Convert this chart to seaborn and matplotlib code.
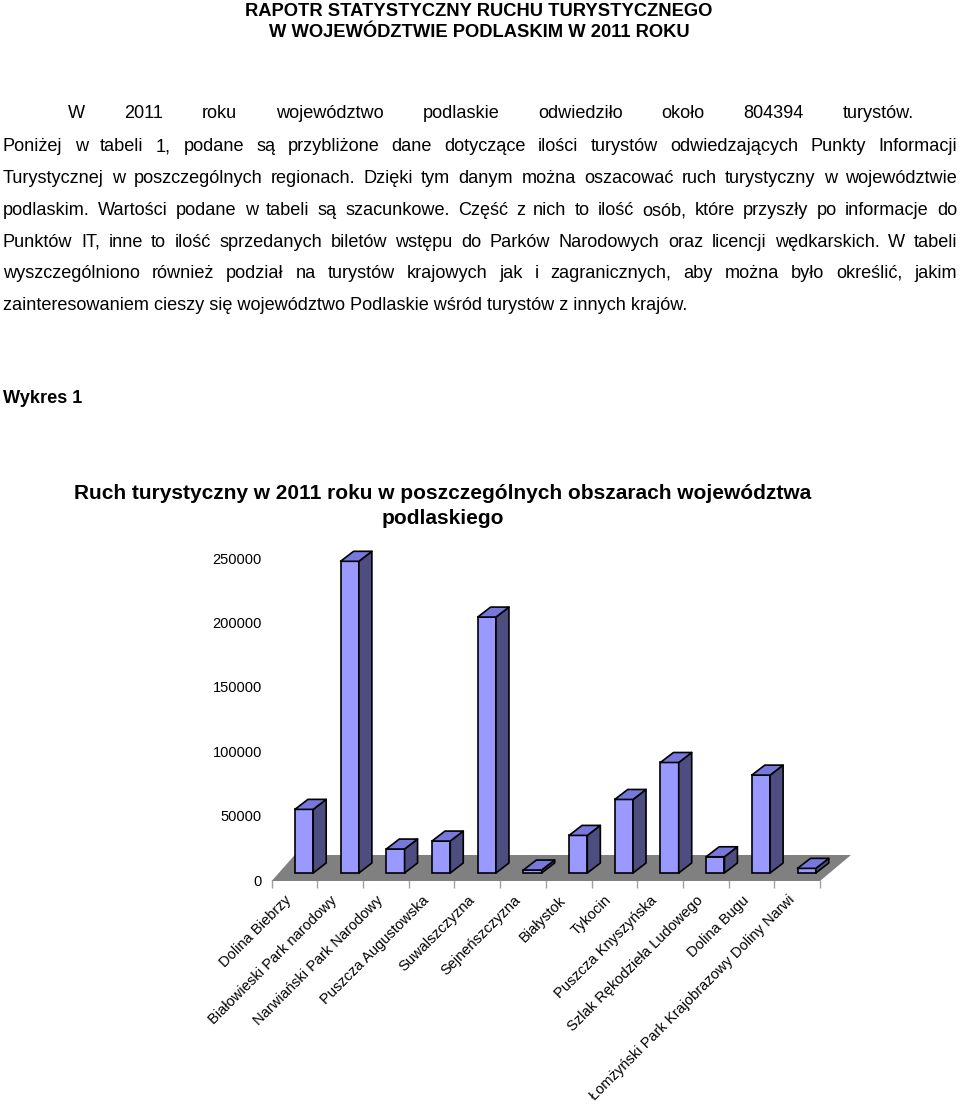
"""
Raport: ruch turystyczny w woj. podlaskim 2011
Page with header, justified paragraph and a pseudo-3D bar chart.
"""

import numpy as np
import pandas as pd
import matplotlib

matplotlib.use("Agg")
import matplotlib.pyplot as plt
import seaborn as sns
from matplotlib.patches import Polygon
from matplotlib.transforms import IdentityTransform, ScaledTranslation

# ------------------------------#
# Data
regions = [
    "Dolina Biebrzy",
    "Białowieski Park narodowy",
    "Narwiański Park Narodowy",
    "Puszcza Augustowska",
    "Suwalszczyzna",
    "Sejneńszczyzna",
    "Białystok",
    "Tykocin",
    "Puszcza Knyszyńska",
    "Szlak Rękodzieła Ludowego",
    "Dolina Bugu",
    "Łomżyński Park Krajobrazowy Doliny Narwi",
]
tourists = [49400, 242000, 18600, 24800, 198700, 2300, 29200, 57100, 85800, 12600, 76000, 3600]
y_ticks = [0, 50000, 100000, 150000, 200000, 250000]

title_lines = [
    "RAPOTR STATYSTYCZNY RUCHU TURYSTYCZNEGO",
    "W WOJEWÓDZTWIE PODLASKIM W 2011 ROKU",
]
paragraph = [
    "W 2011 roku województwo podlaskie odwiedziło około 804394 turystów.",
    "Poniżej w tabeli 1, podane są przybliżone dane dotyczące ilości turystów odwiedzających Punkty Informacji",
    "Turystycznej w poszczególnych regionach. Dzięki tym danym można oszacować ruch turystyczny w województwie",
    "podlaskim. Wartości podane w tabeli są szacunkowe. Część z nich to ilość osób, które przyszły po informacje do",
    "Punktów IT, inne to ilość sprzedanych biletów wstępu do Parków Narodowych oraz licencji wędkarskich. W tabeli",
    "wyszczególniono również podział na turystów krajowych jak i zagranicznych, aby można było określić, jakim",
    "zainteresowaniem cieszy się województwo Podlaskie wśród turystów z innych krajów.",
]
chart_title = "Ruch turystyczny w 2011 roku w poszczególnych obszarach województwa\npodlaskiego"

# ------------------------------#
# Style
sns.set_theme(style="white")
plt.rcParams["font.family"] = ["Liberation Sans", "DejaVu Sans"]
for key in ["text.color", "axes.labelcolor", "xtick.color", "ytick.color"]:
    plt.rcParams[key] = "black"

W, H = 960, 1104
fig = plt.figure(figsize=(W / 100, H / 100), dpi=100)
renderer = fig.canvas.get_renderer()

body_size = 13.1


def px(x, y):
    # pixel position (from top-left) -> figure fraction
    return x / W, 1 - y / H


def put_line(text, x_left, x_right, y, justify=True, **kw):
    # y is the baseline in pixels from the top
    words = text.split()
    if not justify:
        fig.text(*px(x_left, y), text, ha="left", va="baseline", **kw)
        return
    texts = [fig.text(0, 0, w, ha="left", va="baseline", **kw) for w in words]
    widths = [t.get_window_extent(renderer).width for t in texts]
    gap = (x_right - x_left - sum(widths)) / (len(words) - 1)
    x = x_left
    for t, w in zip(texts, widths):
        t.set_position(px(x, y))
        x += w + gap


# ------------------------------#
# Header + text
for line, y in zip(title_lines, [16, 37]):
    fig.text(*px(479, y), line, ha="center", va="baseline", fontsize=13.2,
             fontweight="bold")

baselines = [118, 151, 183, 215, 247, 278, 310]
put_line(paragraph[0], 68, 914, baselines[0], fontsize=body_size)
for line, y in zip(paragraph[1:-1], baselines[1:-1]):
    put_line(line, 3, 957, y, fontsize=body_size)
put_line(paragraph[-1], 3, 957, baselines[-1], justify=False, fontsize=body_size)

fig.text(*px(3, 403), "Wykres 1", ha="left", va="baseline", fontsize=body_size,
         fontweight="bold")
fig.text(*px(443, 506), chart_title, ha="center", va="center", fontsize=15,
         fontweight="bold", linespacing=1.4)

# ------------------------------#
# Chart
ax = fig.add_axes([271.7 / W, 1 - 880 / H, (820 - 271.7) / W, (880 - 558) / H])
df = pd.DataFrame({"region": regions, "tourists": tourists})

front_color = "#9999ff"
side_color = "#4d4d80"
top_color = "#7878dc"
floor_color = "#808080"

sns.barplot(data=df, x="region", y="tourists", color=front_color, saturation=1,
            width=0.4, edgecolor="black", linewidth=1.2, ax=ax, zorder=3)
ax.set_autoscale_on(False)
ax.set_xlim(-0.5, len(regions) - 0.5)
ax.set_ylim(0, 250000)

# bars stand a little behind the front edge of the floor
bar_shift = ScaledTranslation(9.5 / 100, 7 / 100, fig.dpi_scale_trans)
bar_trans = ax.transData + bar_shift
dx, dy = 13, 10  # bar depth in pixels

# floor
fl, fr = ax.transData.transform([(-0.5, 0), (len(regions) - 0.5, 0)])
floor = [(fl[0], fl[1] - 1), (fr[0], fr[1] - 1), (fr[0] + 31, fr[1] + 25),
         (fl[0] + 23, fl[1] + 25)]
ax.add_patch(Polygon(floor, closed=True, transform=IdentityTransform(),
                     facecolor=floor_color, edgecolor="none", zorder=1, clip_on=False))

for p in list(ax.patches)[:len(regions)]:
    p.set_transform(bar_trans)
    p.set_clip_on(False)
    x0, y0 = p.get_x(), p.get_y()
    x1, y1 = x0 + p.get_width(), y0 + p.get_height()
    (a0, b0), (a1, b1) = bar_trans.transform([(x0, y0), (x1, y1)])
    side = [(a1, b0), (a1, b1), (a1 + dx, b1 + dy), (a1 + dx, b0 + dy)]
    top = [(a0, b1), (a1, b1), (a1 + dx, b1 + dy), (a0 + dx, b1 + dy)]
    for poly, col in [(side, side_color), (top, top_color)]:
        ax.add_patch(Polygon(poly, closed=True, transform=IdentityTransform(),
                             facecolor=col, edgecolor="black", linewidth=1.2,
                             joinstyle="round", zorder=4, clip_on=False))

# axes styling
sns.despine(ax=ax, left=True, bottom=True)
ax.set_xlabel("")
ax.set_ylabel("")
ax.set_yticks(y_ticks)
ax.set_yticklabels([str(v) for v in y_ticks])
ax.tick_params(axis="y", length=0, pad=7, labelsize=10.5)
ax.set_xticks(np.arange(len(regions)))
ax.set_xticklabels(regions, rotation=45, ha="right", va="center",
                   rotation_mode="anchor")
ax.tick_params(axis="x", which="major", length=0, pad=10, labelsize=10.5)
ax.set_xticks(np.arange(-0.5, len(regions)), minor=True)
ax.tick_params(axis="x", which="minor", length=6, width=1, color="#a0a0a0",
               direction="out", bottom=True)
ax.grid(False)

label_shift = ScaledTranslation(-5 / 100, -4 / 100, fig.dpi_scale_trans)
for lbl in ax.get_xticklabels():
    lbl.set_transform(lbl.get_transform() + label_shift)

fig.savefig("out.png", dpi=100)
